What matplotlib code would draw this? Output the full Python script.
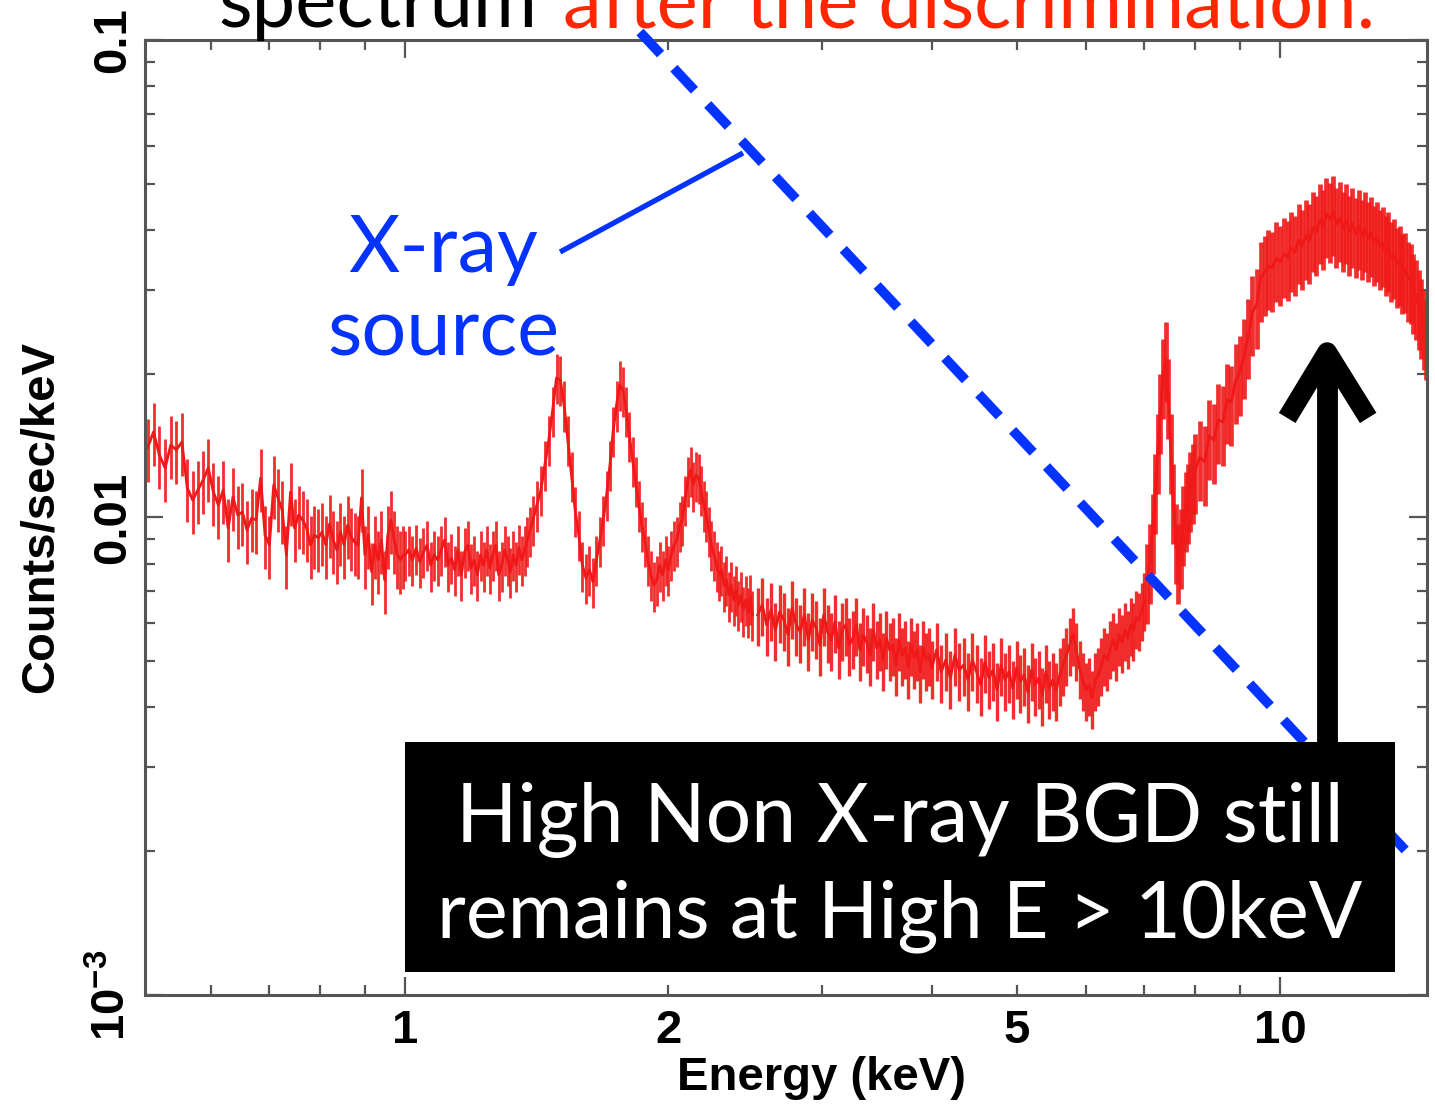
import numpy as np
import matplotlib
matplotlib.use("Agg")
import matplotlib.pyplot as plt
import matplotlib.transforms as mtransforms
from matplotlib.patches import Rectangle
from matplotlib.ticker import LogLocator, NullFormatter

# spectrum, in four energy ranges
energy_a = [0.508, 0.516, 0.524, 0.532, 0.540, 0.548, 0.556, 0.564, 0.572, 0.580,
            0.588, 0.596, 0.604, 0.612, 0.620, 0.628, 0.636, 0.644, 0.652, 0.660,
            0.668, 0.676, 0.684, 0.692, 0.700, 0.708, 0.716, 0.724, 0.732, 0.740,
            0.748, 0.756, 0.764, 0.772, 0.780, 0.788, 0.796, 0.804, 0.812, 0.820,
            0.828, 0.836, 0.844, 0.852, 0.860, 0.868, 0.876, 0.884, 0.892, 0.900,
            0.908, 0.916, 0.924, 0.932, 0.940, 0.948, 0.956, 0.964, 0.972, 0.980,
            0.988, 0.996]
rate_a = [0.01398, 0.01510, 0.01352, 0.01270, 0.01418, 0.01385, 0.01439, 0.01153, 0.01088, 0.01142,
          0.01198, 0.01270, 0.01131, 0.01062, 0.01142, 0.00950, 0.01104, 0.01012, 0.01026, 0.00941,
          0.00997, 0.00988, 0.01210, 0.00919, 0.00876, 0.01169, 0.01099, 0.01036, 0.00835, 0.01131,
          0.00950, 0.01012, 0.00988, 0.00950, 0.00876, 0.00919, 0.00906, 0.00932, 0.00876, 0.00969,
          0.00897, 0.00855, 0.00932, 0.00876, 0.00964, 0.00910, 0.00888, 0.00876, 0.01099, 0.00835,
          0.00919, 0.00770, 0.00876, 0.00815, 0.00897, 0.00740, 0.00919, 0.00988, 0.00897, 0.00835,
          0.00815, 0.00835]

energy_b = [1.00, 1.01, 1.02, 1.03, 1.04, 1.05, 1.06, 1.07, 1.08, 1.09,
            1.10, 1.11, 1.12, 1.13, 1.14, 1.15, 1.16, 1.17, 1.18, 1.19,
            1.20, 1.21, 1.22, 1.23, 1.24, 1.25, 1.26, 1.27, 1.28, 1.29,
            1.30, 1.31, 1.32, 1.33, 1.34, 1.35, 1.36, 1.37, 1.38, 1.39,
            1.400, 1.415, 1.430, 1.445, 1.460, 1.475, 1.490, 1.505, 1.520, 1.535,
            1.550, 1.565, 1.580, 1.595, 1.610, 1.625, 1.640, 1.655, 1.670, 1.685,
            1.700, 1.715, 1.730, 1.745, 1.760, 1.775, 1.790, 1.805, 1.820, 1.835,
            1.850, 1.865, 1.880, 1.895, 1.910, 1.925, 1.940, 1.955, 1.970, 1.985,
            2.000, 2.015, 2.030, 2.045, 2.060, 2.075, 2.090, 2.105, 2.120, 2.135,
            2.150, 2.165, 2.180, 2.195, 2.210, 2.225, 2.240, 2.255, 2.270, 2.285,
            2.300, 2.315, 2.330, 2.345, 2.360, 2.375, 2.390, 2.405, 2.420, 2.435,
            2.450, 2.465, 2.480, 2.495]
rate_b = [0.00835, 0.00855, 0.00815, 0.00863, 0.00807, 0.00847, 0.00876, 0.00795, 0.00835, 0.00815,
          0.00855, 0.00897, 0.00795, 0.00823, 0.00777, 0.00855, 0.00758, 0.00847, 0.00876, 0.00784,
          0.00815, 0.00758, 0.00835, 0.00795, 0.00855, 0.00784, 0.00835, 0.00876, 0.00758, 0.00795,
          0.00855, 0.00815, 0.00770, 0.00835, 0.00795, 0.00863, 0.00815, 0.00855, 0.00897, 0.00941,
          0.00988, 0.01062, 0.01142, 0.01288, 0.01453, 0.01679, 0.01960, 0.01941, 0.01720, 0.01453,
          0.01227, 0.01036, 0.00919, 0.00795, 0.00747, 0.00777, 0.00733, 0.00815, 0.00897, 0.00988,
          0.01115, 0.01288, 0.01524, 0.01720, 0.01895, 0.01849, 0.01679, 0.01488, 0.01319, 0.01198,
          0.01062, 0.00964, 0.00897, 0.00815, 0.00758, 0.00722, 0.00740, 0.00795, 0.00758, 0.00815,
          0.00777, 0.00835, 0.00876, 0.00897, 0.00964, 0.00988, 0.01088, 0.01198, 0.01257, 0.01169,
          0.01227, 0.01210, 0.01142, 0.01062, 0.01012, 0.00941, 0.00876, 0.00835, 0.00795, 0.00758,
          0.00777, 0.00722, 0.00740, 0.00688, 0.00722, 0.00672, 0.00705, 0.00656, 0.00688, 0.00640,
          0.00672, 0.00634, 0.00678, 0.00625]

energy_c = [2.53, 2.56, 2.59, 2.62, 2.65, 2.68, 2.71, 2.74, 2.77, 2.80,
            2.83, 2.86, 2.89, 2.92, 2.95, 2.98, 3.01, 3.04, 3.07, 3.10,
            3.13, 3.16, 3.19, 3.22, 3.25, 3.28, 3.31, 3.34, 3.37, 3.40,
            3.43, 3.46, 3.49, 3.52, 3.55, 3.58, 3.61, 3.64, 3.67, 3.70,
            3.73, 3.76, 3.79, 3.82, 3.85, 3.88, 3.91, 3.94, 3.97,
            4.00, 4.05, 4.10, 4.15, 4.20, 4.25, 4.30, 4.35, 4.40, 4.45,
            4.50, 4.55, 4.60, 4.65, 4.70, 4.75, 4.80, 4.85, 4.90, 4.95,
            5.00, 5.05, 5.10, 5.15, 5.20, 5.25, 5.30, 5.35, 5.40, 5.45,
            5.50, 5.55, 5.60, 5.65, 5.70, 5.75, 5.80, 5.85, 5.90, 5.95,
            6.00, 6.05, 6.10, 6.15, 6.20, 6.25, 6.30, 6.35, 6.40, 6.45,
            6.50, 6.55, 6.60, 6.65, 6.70, 6.75, 6.80, 6.85, 6.90, 6.95,
            7.00]
rate_c = [0.00625, 0.00656, 0.00596, 0.00640, 0.00581, 0.00634, 0.00610, 0.00568, 0.00646, 0.00596,
          0.00576, 0.00625, 0.00554, 0.00610, 0.00587, 0.00541, 0.00625, 0.00576, 0.00554, 0.00604,
          0.00533, 0.00581, 0.00596, 0.00541, 0.00559, 0.00596, 0.00528, 0.00568, 0.00549, 0.00515,
          0.00581, 0.00533, 0.00554, 0.00503, 0.00559, 0.00528, 0.00541, 0.00491, 0.00554, 0.00515,
          0.00533, 0.00484, 0.00541, 0.00508, 0.00528, 0.00475, 0.00533, 0.00503, 0.00515,
          0.00484, 0.00528, 0.00475, 0.00503, 0.00461, 0.00515, 0.00479, 0.00491, 0.00457, 0.00503,
          0.00475, 0.00446, 0.00498, 0.00461, 0.00479, 0.00435, 0.00491, 0.00457, 0.00475, 0.00439,
          0.00484, 0.00453, 0.00468, 0.00431, 0.00479, 0.00446, 0.00461, 0.00425, 0.00475, 0.00439,
          0.00457, 0.00435, 0.00468, 0.00491, 0.00515, 0.00541, 0.00568, 0.00528, 0.00484, 0.00457,
          0.00435, 0.00446, 0.00419, 0.00457, 0.00468, 0.00491, 0.00515, 0.00503, 0.00533, 0.00554,
          0.00528, 0.00568, 0.00549, 0.00581, 0.00559, 0.00596, 0.00581, 0.00616, 0.00610, 0.00640,
          0.00672]

energy_d = [7.05, 7.10, 7.15, 7.20, 7.25, 7.30, 7.35, 7.40, 7.45, 7.50,
            7.55, 7.60, 7.65, 7.70, 7.75, 7.80, 7.85, 7.90, 7.95, 8.00,
            8.1, 8.2, 8.3, 8.4, 8.5, 8.6, 8.7, 8.8, 8.9, 9.0,
            9.1, 9.2, 9.3, 9.4, 9.5, 9.6, 9.7, 9.8, 9.9, 10.0,
            10.1, 10.2, 10.3, 10.4, 10.5, 10.6, 10.7, 10.8, 10.9, 11.0,
            11.1, 11.2, 11.3, 11.4, 11.5, 11.6, 11.7, 11.8, 11.9, 12.0,
            12.1, 12.2, 12.3, 12.4, 12.5, 12.6, 12.7, 12.8, 12.9, 13.0,
            13.1, 13.2, 13.3, 13.4, 13.5, 13.6, 13.7, 13.8, 13.9, 14.0,
            14.1, 14.2, 14.3, 14.4, 14.5, 14.6, 14.7]
rate_d = [0.00740, 0.00815, 0.00941, 0.01142, 0.01385, 0.01679, 0.01988, 0.02156, 0.01805, 0.01385,
          0.01088, 0.00897, 0.00815, 0.00876, 0.00978, 0.01047, 0.01088, 0.01153, 0.01198, 0.01257,
          0.01339, 0.01307, 0.01481, 0.01453, 0.01600, 0.01585, 0.01762, 0.01745, 0.01941, 0.02016,
          0.02188, 0.02411, 0.02694, 0.02786, 0.03173, 0.03266, 0.03363, 0.03331, 0.03495, 0.03427,
          0.03562, 0.03512, 0.03667, 0.03596, 0.03812, 0.03704, 0.03886, 0.03812, 0.04039, 0.03962,
          0.04198, 0.04078, 0.04321, 0.04218, 0.04363, 0.04118, 0.04239, 0.04039, 0.04198, 0.03962,
          0.04118, 0.03924, 0.04078, 0.03886, 0.04039, 0.03849, 0.03943, 0.03776, 0.03849, 0.03704,
          0.03758, 0.03596, 0.03667, 0.03495, 0.03545, 0.03394, 0.03427, 0.03297, 0.03315, 0.03173,
          0.03142, 0.02995, 0.02910, 0.02772, 0.02655, 0.02518, 0.02399]

# relative size of the error bars in each range
rel_err_a = 0.15
rel_err_b = 0.12
rel_err_c = 0.14
rel_err_d = 0.19

x_major_ticks = [1, 10]
x_major_labels = ["1", "10"]
x_minor_ticks = [0.6, 0.7, 0.8, 0.9, 2, 3, 4, 5, 6, 7, 8, 9]
x_minor_labels = ["", "", "", "", "2", "", "", "5", "", "", "", ""]
y_major_ticks = [0.001, 0.01, 0.1]
y_major_labels = [r"$10^{-3}$", "0.01", "0.1"]

RED = "#f01818"
BLUE = "#0433ff"

plt.rcParams["font.family"] = ["Liberation Sans", "DejaVu Sans"]
plt.rcParams["mathtext.fontset"] = "custom"
plt.rcParams["mathtext.rm"] = "Liberation Sans:bold"
plt.rcParams["mathtext.it"] = "Liberation Sans:bold"
plt.rcParams["mathtext.default"] = "rm"

fig = plt.figure(figsize=(14.35, 11.07), dpi=100)
ax = fig.add_axes([0.1010, 0.1012, 0.8934, 0.8627])

segments = [(energy_a, rate_a, rel_err_a, 2.0),
            (energy_b, rate_b, rel_err_b, 2.0),
            (energy_c, rate_c, rel_err_c, 2.4),
            (energy_d, rate_d, rel_err_d, 3.4)]
for en, rt, rel, ew in segments:
    en = np.array(en)
    rt = np.array(rt)
    ax.errorbar(en, rt, yerr=rt * rel, fmt="none", ecolor=RED,
                elinewidth=ew, capsize=0, alpha=0.9, zorder=2)
    ax.plot(en, rt, color=RED, lw=2.0, zorder=2)

ax.set_xscale("log")
ax.set_yscale("log")
ax.set_xlim(0.5045, 14.72)
ax.set_ylim(1e-3, 0.1)

ax.set_xticks(x_major_ticks)
ax.set_xticklabels(x_major_labels)
ax.set_xticks(x_minor_ticks, minor=True)
ax.set_xticklabels(x_minor_labels, minor=True)
ax.set_yticks(y_major_ticks)
ax.set_yticklabels(y_major_labels)
ax.yaxis.set_minor_locator(LogLocator(base=10, subs=np.arange(2, 10)))
ax.yaxis.set_minor_formatter(NullFormatter())

for lab in ax.get_xticklabels(which="both") + ax.get_yticklabels():
    lab.set_fontweight("bold")
    lab.set_fontsize(34)
for lab in ax.get_yticklabels():
    lab.set_rotation(90)
    lab.set_verticalalignment("center")

ax.tick_params(which="both", direction="in", top=True, right=True,
               color="#555555", width=1.6)
ax.tick_params(which="major", length=13)
ax.tick_params(which="minor", length=7)
ax.tick_params(axis="x", which="both", pad=10)
ax.tick_params(axis="y", which="both", pad=7)
for sp in ax.spines.values():
    sp.set_color("#555555")
    sp.set_linewidth(2.2)

ax.set_xlabel("Energy (keV)", fontsize=34, fontweight="bold")
ax.xaxis.set_label_coords(0.528, -0.064)
ax.set_ylabel("Counts/sec/keV", fontsize=34, fontweight="bold", labelpad=20)

# slide overlays
ax.plot([1.856, 13.9], [0.1039, 0.002012], color=BLUE, lw=7,
        linestyle=(0, (3.1, 2.0)), dash_capstyle="butt", clip_on=False, zorder=4)
ax.plot([1.504, 2.434], [0.03597, 0.05799], color=BLUE, lw=3.8,
        solid_capstyle="butt", clip_on=False, zorder=4)

ax.add_patch(Rectangle((0.2028, 0.02408), 0.7722, 0.2408, transform=ax.transAxes,
                       facecolor="black", edgecolor="none", zorder=6))
ax.plot([11.32, 11.32], [0.003387, 0.02221], color="black", lw=15,
        solid_capstyle="butt", zorder=5)
ax.plot([10.19, 11.32, 12.61], [0.01616, 0.02221, 0.01616], color="black", lw=14,
        solid_capstyle="butt", solid_joinstyle="round", zorder=5)

ax.text(0.589, 0.1602, "High Non X-ray BGD still", transform=ax.transAxes,
        ha="center", va="baseline", color="white", fontsize=58, family="Lato", zorder=7)
ax.text(0.589, 0.0597, "remains at High E > 10keV", transform=ax.transAxes,
        ha="center", va="baseline", color="white", fontsize=57, family="Lato", zorder=7)

fig.text(0.3087, 0.7543, "X-ray", ha="center", va="baseline", color=BLUE,
         fontsize=57, family="Lato")
fig.text(0.3087, 0.6793, "source", ha="center", va="baseline", color=BLUE,
         fontsize=57, family="Lato")

fig.text(0.3742, 0.9756, "spectrum", ha="right", va="baseline", color="black",
         fontsize=56, family="Lato")
fig.text(0.3923, 0.9756, "after the discrimination.", ha="left", va="baseline",
         color="#ff2600", fontsize=56, family="Lato")

fig.savefig("out.png", dpi=100)
